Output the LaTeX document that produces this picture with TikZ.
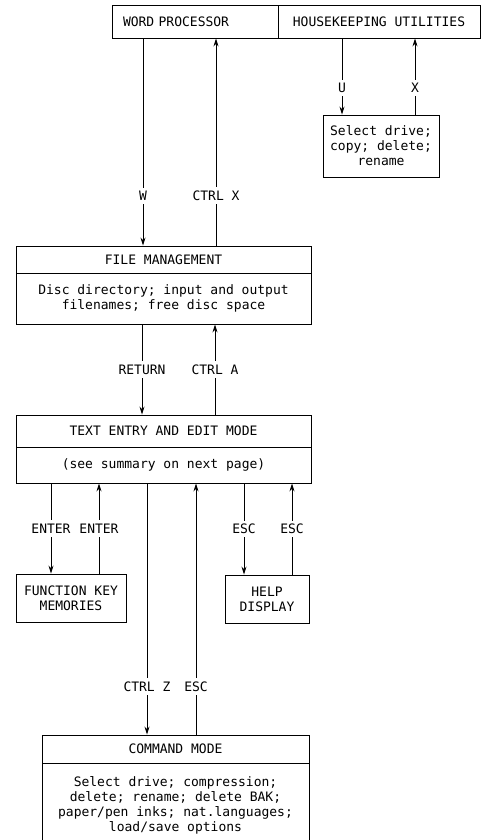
\documentclass[tikz,border=0pt]{standalone}
\usepackage{fontspec}
\setmonofont{DejaVu Sans Mono}
\usetikzlibrary{arrows.meta}

\begin{document}
\begin{tikzpicture}[
    x=1pt, y=-1pt,
    font=\ttfamily\fontsize{13}{15}\selectfont,
    box/.style={draw, line width=0.9pt, inner sep=0pt, align=center},
    lbl/.style={fill=white, inner xsep=1pt, inner ysep=3.5pt},
    link/.style={line width=0.8pt},
    >={Stealth[length=8pt, width=5pt]}
]
    \useasboundingbox (0,0) rectangle (483,840);

    \node[box, minimum width=166pt, minimum height=33pt, text width=144pt, align=left] (wp) at (195,21.5) {WORD PROCESSOR};
    \node[box, minimum width=202pt, minimum height=33pt] (hk) at (379,21.5) {HOUSEKEEPING UTILITIES};
    \node[box, minimum width=116pt, minimum height=62pt] (sel) at (381,146) {Select drive;\\copy; delete;\\rename};

    \node[box, minimum width=295pt, minimum height=27pt] (fmT) at (163.5,259.5) {FILE MANAGEMENT};
    \node[box, minimum width=295pt, minimum height=51pt] (fmB) at (163.5,298.5) {Disc directory; input and output\\filenames; free disc space};

    \node[box, minimum width=295pt, minimum height=32pt] (teT) at (163.5,431) {TEXT ENTRY AND EDIT MODE};
    \node[box, minimum width=295pt, minimum height=36pt] (teB) at (163.5,465) {(see summary on next page)};

    \node[box, minimum width=110pt, minimum height=48pt] (fk) at (71,598) {FUNCTION KEY\\MEMORIES};
    \node[box, minimum width=84pt, minimum height=48pt] (help) at (267,599) {HELP\\DISPLAY};

    \node[box, minimum width=267pt, minimum height=28pt] (cmT) at (175.5,749) {COMMAND MODE};
    \node[box, minimum width=267pt, minimum height=84pt] (cmB) at (175.5,805) {Select drive; compression;\\delete; rename; delete BAK;\\paper/pen inks; nat.languages;\\load/save options};

    \draw[link, ->] (wp.south -| 143,0) -- node[lbl, pos=0.76] {W} (fmT.north -| 143,0);
    \draw[link, ->] (fmT.north -| 216,0) -- node[lbl, pos=0.24] {CTRL X} (wp.south -| 216,0);
    \draw[link, ->] (hk.south -| 342,0) -- node[lbl, pos=0.65] {U} (sel.north -| 342,0);
    \draw[link, ->] (sel.north -| 415,0) -- node[lbl, pos=0.35] {X} (hk.south -| 415,0);

    \draw[link, ->] (fmB.south -| 142,0) -- node[lbl] {RETURN} (teT.north -| 142,0);
    \draw[link, ->] (teT.north -| 215,0) -- node[lbl] {CTRL A} (fmB.south -| 215,0);

    \draw[link, ->] (teB.south -| 51,0) -- node[lbl] {ENTER} (fk.north -| 51,0);
    \draw[link, ->] (fk.north -| 99,0) -- node[lbl] {ENTER} (teB.south -| 99,0);
    \draw[link, ->] (teB.south -| 244,0) -- node[lbl] {ESC} (help.north -| 244,0);
    \draw[link, ->] (help.north -| 292,0) -- node[lbl] {ESC} (teB.south -| 292,0);

    \draw[link, ->] (teB.south -| 147,0) -- node[lbl, pos=0.81] {CTRL Z} (cmT.north -| 147,0);
    \draw[link, ->] (cmT.north -| 196,0) -- node[lbl, pos=0.19] {ESC} (teB.south -| 196,0);
\end{tikzpicture}
\end{document}
